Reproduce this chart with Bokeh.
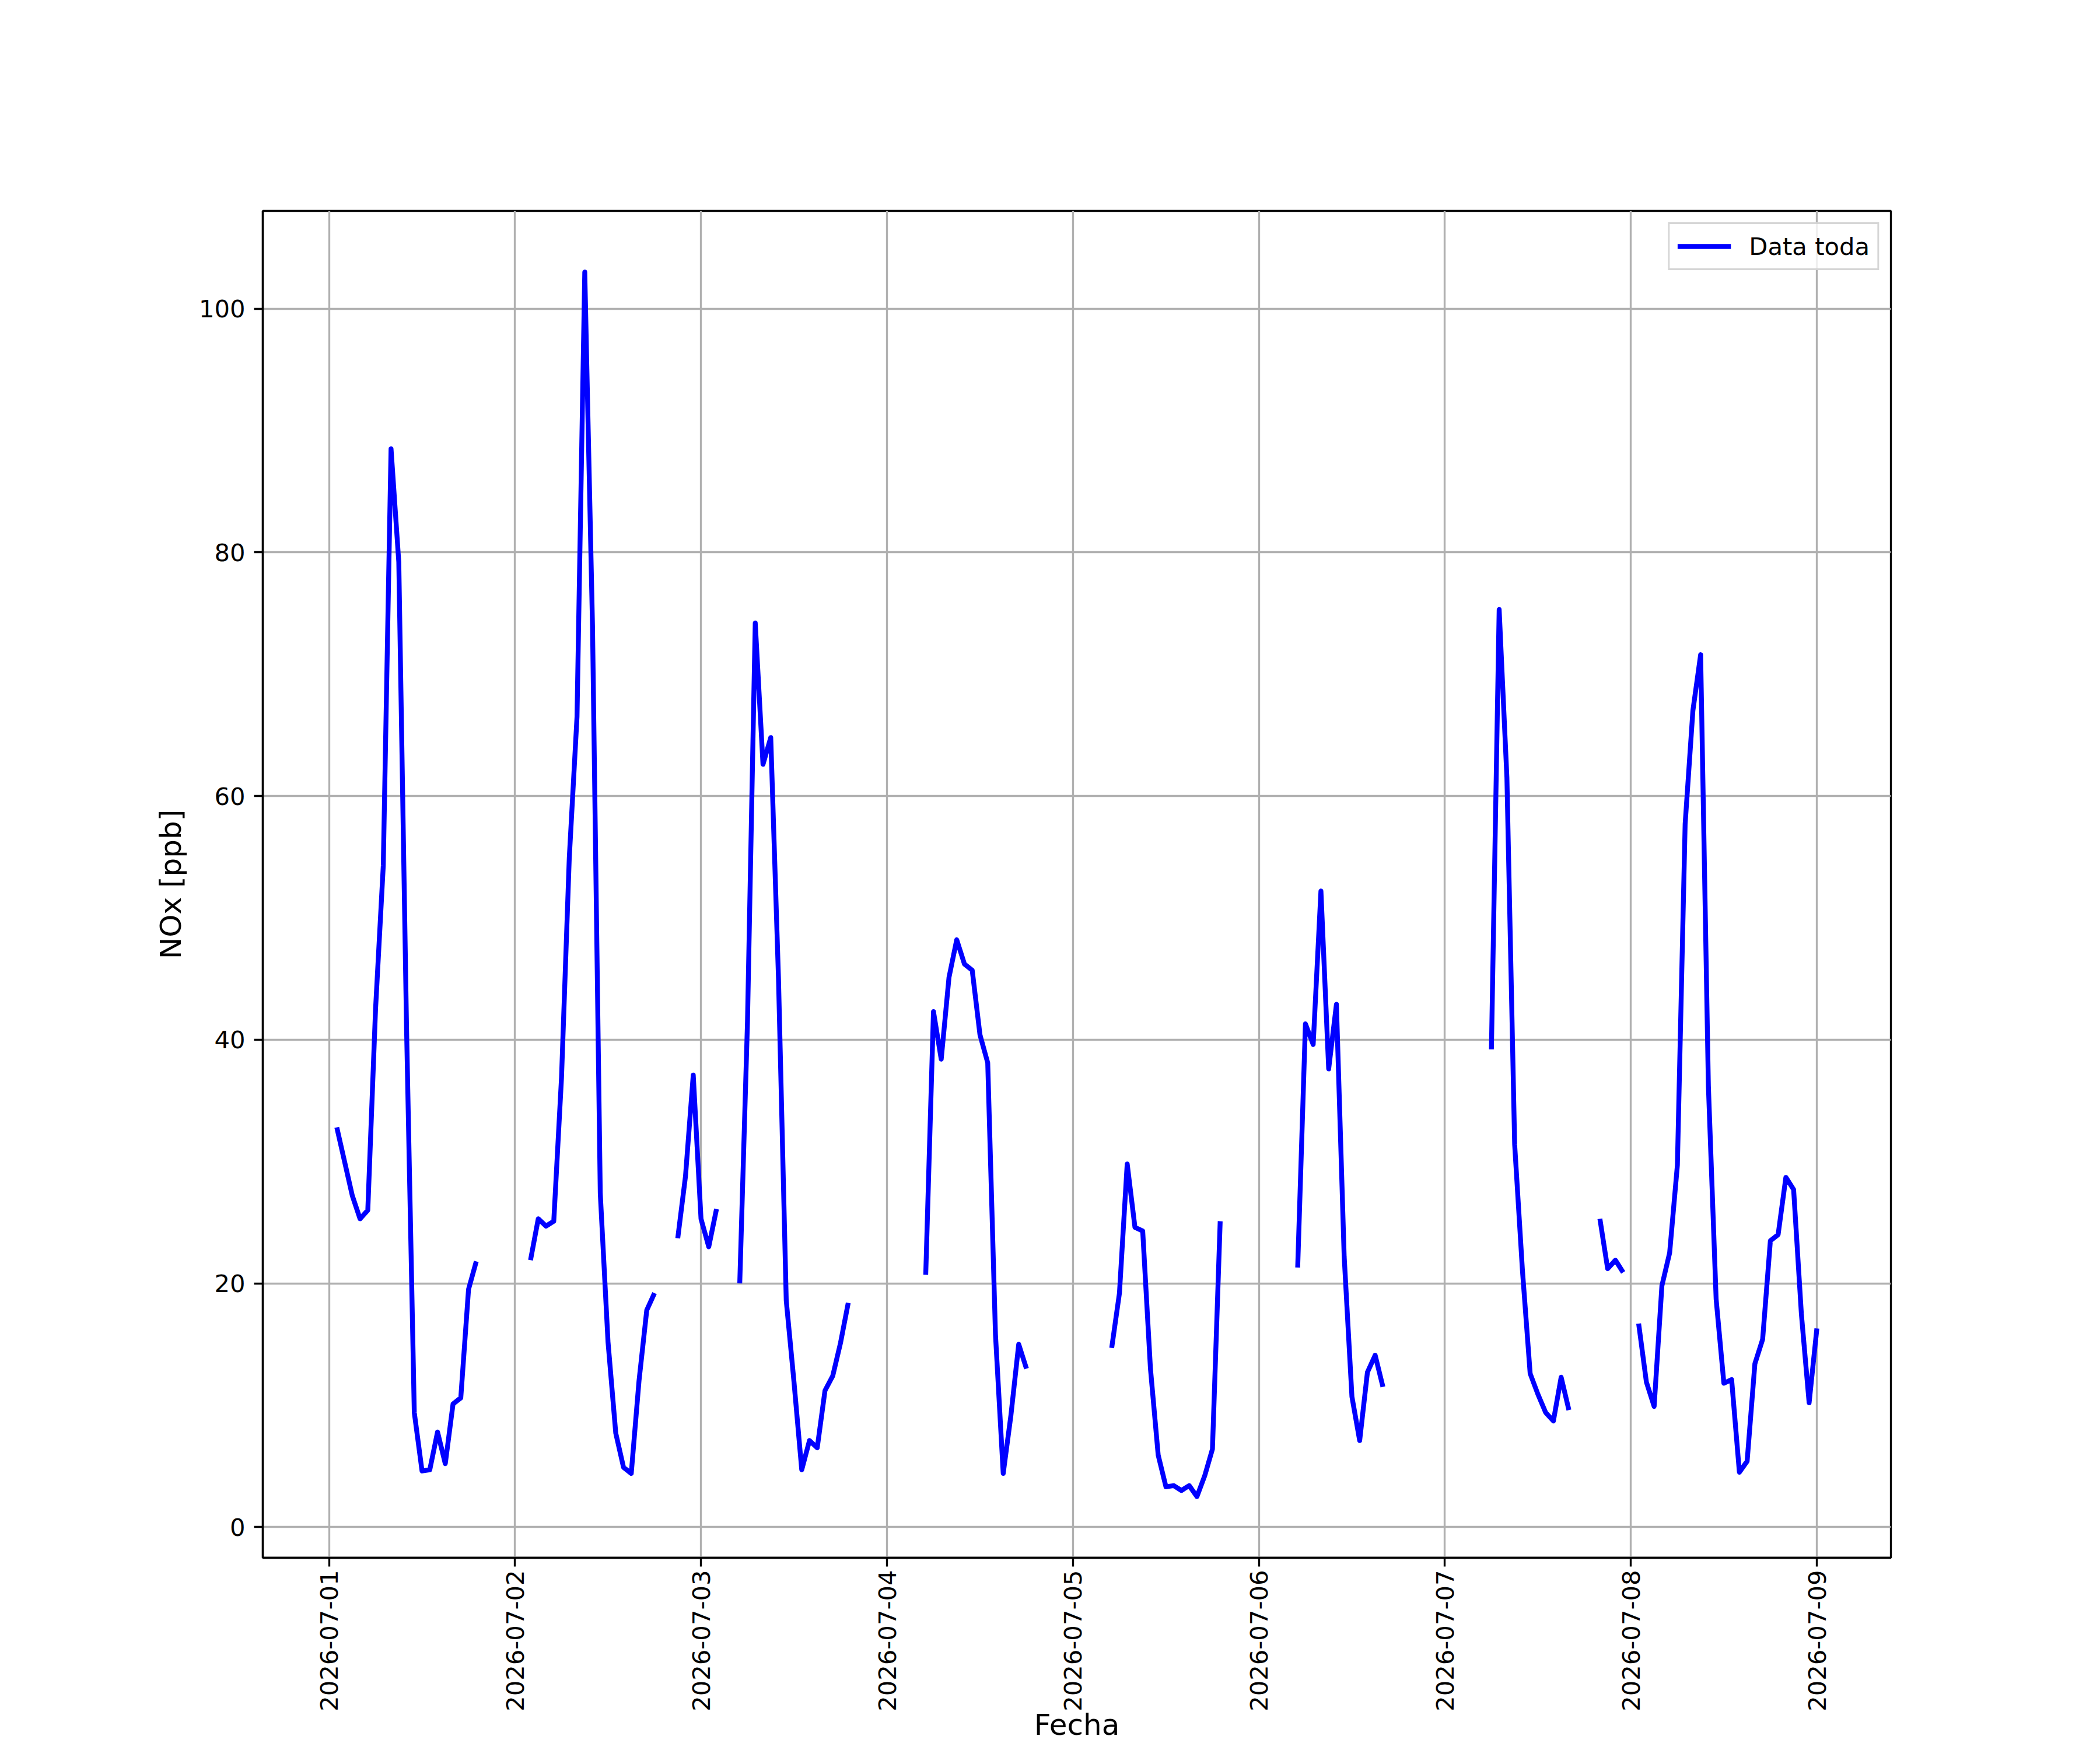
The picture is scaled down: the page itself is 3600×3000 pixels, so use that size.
import math
import numpy as np
import pandas as pd
from bokeh.plotting import figure
from bokeh.models import (Range1d, FixedTicker, DatetimeTickFormatter,
                          ColumnDataSource)
from bokeh.embed import file_html
from bokeh.resources import INLINE

nan = float("nan")

# ---------------- data (hourly NOx, ppb) ----------------
fecha_inicio = "2026-07-01 00:00"
dia_01 = [nan, 32.8, 30.0, 27.2, 25.3, 26.0, 42.5, 54.3, 88.5, 79.2, 41.0, 9.4,
          4.6, 4.7, 7.8, 5.2, 10.1, 10.6, 19.5, 21.8, nan, nan, nan, nan]
dia_02 = [nan, nan, 21.9, 25.3, 24.7, 25.1, 36.9, 54.9, 66.5, 103.0, 73.9, 27.4,
          15.2, 7.7, 4.9, 4.4, 12.0, 17.8, 19.2, nan, nan, 23.7, 28.8, 37.1]
dia_03 = [25.3, 23.0, 26.1, nan, nan, 20.0, 41.5, 74.2, 62.6, 64.8, 45.0, 18.6,
          11.9, 4.7, 7.1, 6.5, 11.2, 12.4, 15.1, 18.4, nan, nan, nan, nan]
dia_04 = [nan, nan, nan, nan, nan, 20.7, 42.3, 38.4, 45.1, 48.2, 46.2, 45.7,
          40.4, 38.1, 15.8, 4.4, 9.2, 15.0, 13.0, nan, nan, nan, nan, nan]
dia_05 = [nan, nan, nan, nan, nan, 14.7, 19.2, 29.8, 24.6, 24.3, 13.0, 5.9,
          3.3, 3.4, 3.0, 3.4, 2.5, 4.2, 6.4, 25.1, nan, nan, nan, nan]
dia_06 = [nan, nan, nan, nan, nan, 21.3, 41.3, 39.6, 52.2, 37.6, 42.9, 22.2,
          10.7, 7.1, 12.7, 14.1, 11.5, nan, nan, nan, nan, nan, nan, nan]
dia_07 = [nan, nan, nan, nan, nan, nan, 39.2, 75.3, 61.5, 31.4, 21.1, 12.6,
          10.9, 9.4, 8.7, 12.3, 9.6, nan, nan, nan, 25.3, 21.2, 21.9, 20.9]
dia_08 = [nan, 16.7, 11.9, 9.9, 19.8, 22.5, 29.7, 57.7, 67.0, 71.6, 36.2, 18.7,
          11.8, 12.1, 4.5, 5.4, 13.4, 15.4, 23.5, 24.0, 28.7, 27.7, 17.5, 10.2]
dia_09 = [16.3]

tick_labels = ["2026-07-01", "2026-07-02", "2026-07-03", "2026-07-04", "2026-07-05",
               "2026-07-06", "2026-07-07", "2026-07-08", "2026-07-09"]
y_ticks = [0, 20, 40, 60, 80, 100]
serie_label = "Data toda"
x_title = "Fecha"
y_title = "NOx [ppb]"

# ---------------- build ----------------
nox = np.array(dia_01 + dia_02 + dia_03 + dia_04 + dia_05 + dia_06 + dia_07 + dia_08 + dia_09)
fechas = pd.date_range(fecha_inicio, periods=len(nox), freq="h")
x_ms = fechas.values.astype("datetime64[ms]").astype(np.int64).astype(float)

valid = ~np.isnan(nox)
x0, x1 = x_ms[valid].min(), x_ms[valid].max()
y0, y1 = np.nanmin(nox), np.nanmax(nox)
mx = 0.05 * (x1 - x0)
my = 0.05 * (y1 - y0)
xs, xe = x0 - mx, x1 + mx
ys, ye = y0 - my, y1 + my

tick_ms = [float(pd.Timestamp(t).value // 10**6) for t in tick_labels]

FONT = "DejaVu Sans"
TICK_PX = "41.7px"
LABEL_PX = "50px"
LW = 3.33

W, H = 3584, 2992
BL, BR, BT = 450, 343, 361
FH = 2309
BB = H - BT - FH

p = figure(width=W, height=H, output_backend="svg", toolbar_location=None,
           x_axis_type="datetime",
           x_range=Range1d(xs, xe), y_range=Range1d(ys, ye),
           min_border_left=BL, min_border_right=BR, min_border_top=BT,
           min_border_bottom=BB)
p.background_fill_color = "white"
p.border_fill_color = "white"
p.outline_line_color = "black"
p.outline_line_width = LW

src = ColumnDataSource(dict(x=x_ms, y=nox))
p.line("x", "y", source=src, line_color="#0000ff", line_width=8.33,
       line_join="round", line_cap="butt", legend_label=serie_label)

# axes
p.xaxis.ticker = FixedTicker(ticks=tick_ms)
p.xaxis.formatter = DatetimeTickFormatter(
    milliseconds="%Y-%m-%d", seconds="%Y-%m-%d", minsec="%Y-%m-%d",
    minutes="%Y-%m-%d", hourmin="%Y-%m-%d", hours="%Y-%m-%d",
    days="%Y-%m-%d", months="%Y-%m-%d", years="%Y-%m-%d")
p.xaxis.major_label_orientation = math.pi / 2
p.yaxis.ticker = FixedTicker(ticks=y_ticks)

for ax in (p.xaxis[0], p.yaxis[0]):
    ax.axis_line_color = "black"
    ax.axis_line_width = LW
    ax.major_tick_line_color = "black"
    ax.major_tick_line_width = LW
    ax.major_tick_out = 15
    ax.major_tick_in = 0
    ax.minor_tick_out = 0
    ax.minor_tick_in = 0
    ax.major_label_text_font = FONT
    ax.major_label_text_font_size = TICK_PX
    ax.major_label_text_color = "black"
    ax.axis_label_text_font = FONT
    ax.axis_label_text_font_size = LABEL_PX
    ax.axis_label_text_font_style = "normal"
    ax.axis_label_text_color = "black"

p.xaxis.major_label_standoff = 6
p.yaxis.major_label_standoff = 15
p.xaxis.axis_label = x_title
p.xaxis.axis_label_standoff = -9
p.yaxis.axis_label = y_title
p.yaxis.axis_label_standoff = 16

p.xgrid.ticker = FixedTicker(ticks=tick_ms)
p.ygrid.ticker = FixedTicker(ticks=y_ticks)
for g in (p.xgrid[0], p.ygrid[0]):
    g.grid_line_color = "#b0b0b0"
    g.grid_line_width = LW

# legend
lg = p.legend[0]
lg.location = "top_right"
lg.label_text_font = FONT
lg.label_text_font_size = TICK_PX
lg.label_text_color = "black"
lg.glyph_width = 92
lg.glyph_height = 50
lg.label_height = 50
lg.label_standoff = 31
lg.padding = 13
lg.spacing = 0
lg.margin = 20
lg.border_line_color = "#cccccc"
lg.border_line_width = LW
lg.border_line_alpha = 0.8
lg.background_fill_color = "white"
lg.background_fill_alpha = 0.8

open("out.html", "w").write(file_html(p, INLINE))
